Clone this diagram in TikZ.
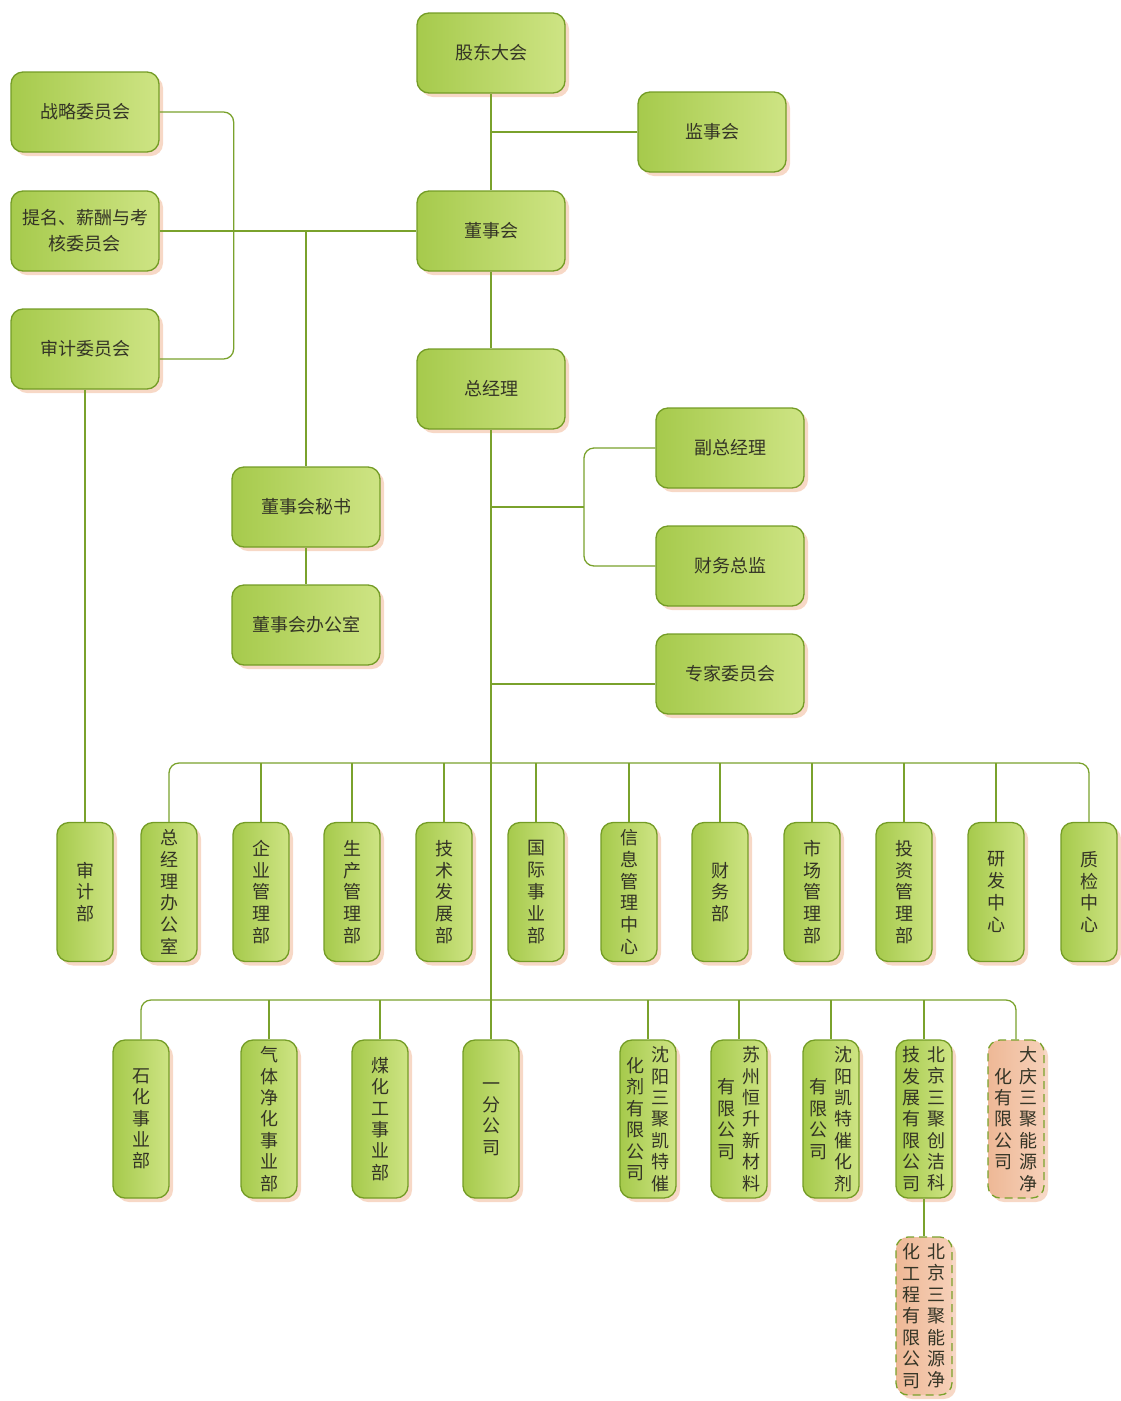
\documentclass[tikz,border=0pt]{standalone}
\usepackage{fontspec}
\newfontfamily\cjk{Noto Sans CJK SC}
\usetikzlibrary{shadows}
\definecolor{gA}{RGB}{166,202,76}
\definecolor{gB}{RGB}{206,228,132}
\definecolor{bdr}{RGB}{116,156,38}
\definecolor{lnc}{RGB}{122,162,44}
\definecolor{shd}{RGB}{247,216,198}
\definecolor{txt}{RGB}{52,52,38}
\definecolor{pA}{RGB}{238,184,150}
\definecolor{pB}{RGB}{246,208,184}
\begin{document}
\begin{tikzpicture}[x=1pt,y=-1pt,
  base/.style={draw=bdr,line width=1.3pt,rounded corners=12pt,left color=gA,right color=gB,
    text=txt,inner sep=1pt,
    drop shadow={shadow xshift=4pt,shadow yshift=-4pt,fill=shd,opacity=1}},
  hbox/.style={base,minimum width=148pt,minimum height=80pt,align=center,
    font=\cjk\fontsize{18}{26}\selectfont},
  vbox/.style={base,minimum width=56pt,minimum height=139pt,align=center,
    font=\cjk\fontsize{18}{21.8}\selectfont},
  vboxb/.style={base,minimum width=56pt,minimum height=158pt,align=center,
    font=\cjk\fontsize{18}{21.4}\selectfont},
  dbox/.style={vboxb,dashed,dash pattern=on 8pt off 5pt,draw=lnc,left color=pA,right color=pB},
  vtxt/.style={inner sep=0pt,align=center,text=txt,font=\cjk\fontsize{18}{21.4}\selectfont},
  conn/.style={draw=lnc,line width=1.3pt},
  every path/.append style={line join=round}
]
\useasboundingbox (0,0) rectangle (1121,1401);

% top level
\node[hbox] (gd) at (491,53) {股东大会};
\node[hbox] (jsh) at (712,132) {监事会};
\node[hbox] (dsh) at (491,231) {董事会};
\node[hbox] (zjl) at (491,389) {总经理};
\node[hbox] (zl) at (85,112) {战略委员会};
\node[hbox] (tm) at (85,231) {提名、薪酬与考\\核委员会};
\node[hbox] (sj) at (85,349) {审计委员会};
\node[hbox] (ms) at (306,507) {董事会秘书};
\node[hbox] (bgs) at (306,625) {董事会办公室};
\node[hbox] (fz) at (730,448) {副总经理};
\node[hbox] (cw) at (730,566) {财务总监};
\node[hbox] (zj) at (730,674) {专家委员会};

% row 1 departments
\node[vbox] (sjb) at (85,892) {审\\计\\部};
\node[vbox] (zbgs) at (169,892) {总\\经\\理\\办\\公\\室};
\node[vbox] (qy) at (261,892) {企\\业\\管\\理\\部};
\node[vbox] (sc) at (352,892) {生\\产\\管\\理\\部};
\node[vbox] (js) at (444,892) {技\\术\\发\\展\\部};
\node[vbox] (gj) at (536,892) {国\\际\\事\\业\\部};
\node[vbox] (xx) at (629,892) {信\\息\\管\\理\\中\\心};
\node[vbox] (cwb) at (720,892) {财\\务\\部};
\node[vbox] (scb) at (812,892) {市\\场\\管\\理\\部};
\node[vbox] (tz) at (904,892) {投\\资\\管\\理\\部};
\node[vbox] (yf) at (996,892) {研\\发\\中\\心};
\node[vbox] (zjzx) at (1089,892) {质\\检\\中\\心};

% row 2 units
\node[vboxb] (shsy) at (141,1119) {石\\化\\事\\业\\部};
\node[vboxb] (qt) at (269,1119) {气\\体\\净\\化\\事\\业\\部};
\node[vboxb] (mhg) at (380,1119) {煤\\化\\工\\事\\业\\部};
\node[vboxb] (yfgs) at (491,1119) {一\\分\\公\\司};

\node[vboxb] (sykt) at (648,1119) {};
\node[vtxt] at ([xshift=12.5pt]sykt.center) {沈\\阳\\三\\聚\\凯\\特\\催};
\node[vtxt] at ([xshift=-12.5pt]sykt.center) {化\\剂\\有\\限\\公\\司};

\node[vboxb] (sz) at (739,1119) {};
\node[vtxt] at ([xshift=12.5pt]sz.center) {苏\\州\\恒\\升\\新\\材\\料};
\node[vtxt] at ([xshift=-12.5pt]sz.center) {有\\限\\公\\司};

\node[vboxb] (syk) at (831,1119) {};
\node[vtxt] at ([xshift=12.5pt]syk.center) {沈\\阳\\凯\\特\\催\\化\\剂};
\node[vtxt] at ([xshift=-12.5pt]syk.center) {有\\限\\公\\司};

\node[vboxb] (bjcj) at (924,1119) {};
\node[vtxt] at ([xshift=12.5pt]bjcj.center) {北\\京\\三\\聚\\创\\洁\\科};
\node[vtxt] at ([xshift=-12.5pt]bjcj.center) {技\\发\\展\\有\\限\\公\\司};

\node[dbox] (dq) at (1016,1119) {};
\node[vtxt] at ([xshift=12.5pt]dq.center) {大\\庆\\三\\聚\\能\\源\\净};
\node[vtxt] at ([xshift=-12.5pt]dq.center) {化\\有\\限\\公\\司};

\node[dbox] (bjny) at (924,1316) {};
\node[vtxt] at ([xshift=12.5pt]bjny.center) {北\\京\\三\\聚\\能\\源\\净};
\node[vtxt] at ([xshift=-12.5pt]bjny.center) {化\\工\\程\\有\\限\\公\\司};

% connectors - top
\draw[conn] (gd.south) -- (dsh.north);
\draw[conn] (dsh.south) -- (zjl.north);
\draw[conn] (zjl.south) -- (yfgs.north);
\draw[conn] (jsh.west) -- (jsh.west -| gd.south);
\draw[conn] (tm.east) -- (dsh.west);
\draw[conn,rounded corners=10pt] (zl.east) -- ++(74,0) |- ([yshift=-10pt]sj.east);
\draw[conn] (tm.east -| ms.north) -- (ms.north);
\draw[conn] (ms.south) -- (bgs.north);
\draw[conn] (sj.south) -- (sjb.north);

% GM branch
\coordinate (gmj) at (584,507);
\draw[conn] (gmj -| zjl.south) -- (gmj);
\draw[conn,rounded corners=10pt] (fz.west) -| (gmj) |- (cw.west);
\coordinate (zjw) at ([yshift=-10pt]zj.west);
\draw[conn] (zjw) -- (zjw -| zjl.south);

% bus 1
\coordinate (b1) at (491,763);
\draw[conn,rounded corners=10pt] (zbgs.north) |- (b1) -| (zjzx.north);
\foreach \n in {qy,sc,js,gj,xx,cwb,scb,tz,yf}
  \draw[conn] (\n.north |- b1) -- (\n.north);

% bus 2
\coordinate (b2) at (491,1000);
\draw[conn,rounded corners=10pt] (shsy.north) |- (b2) -| (dq.north);
\foreach \n in {qt,mhg,sykt,sz,syk,bjcj}
  \draw[conn] (\n.north |- b2) -- (\n.north);
\draw[conn] (bjcj.south) -- (bjny.north);
\end{tikzpicture}
\end{document}
